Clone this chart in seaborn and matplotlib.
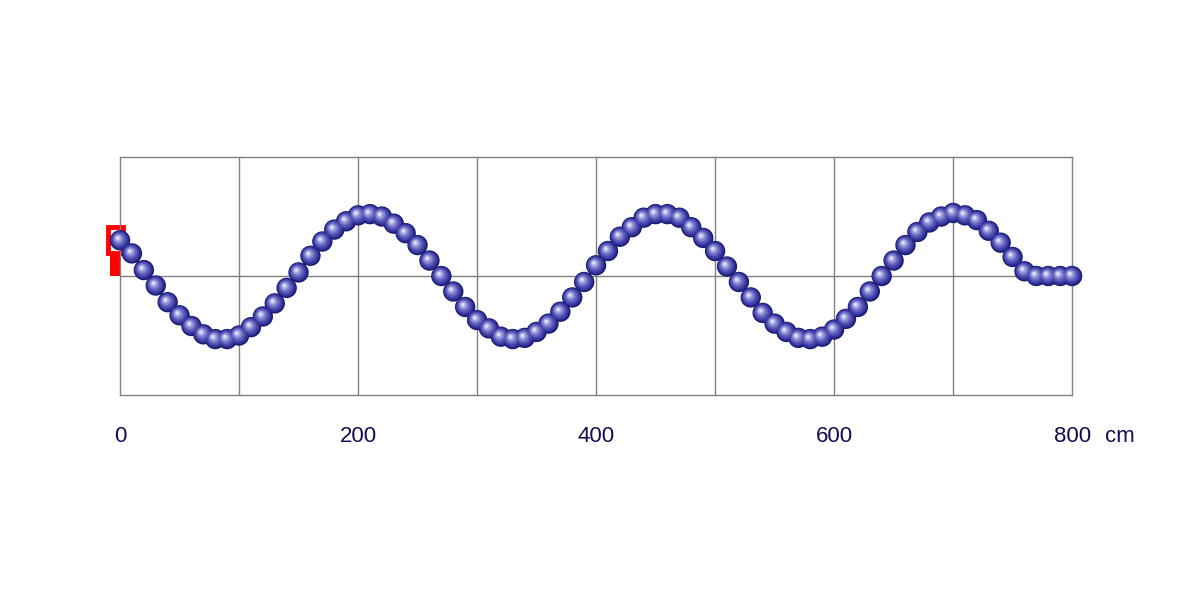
import numpy as np
import pandas as pd
import seaborn as sns
import matplotlib.pyplot as plt
from matplotlib.patches import Rectangle
from matplotlib.transforms import offset_copy

# ball positions along the string (cm) and their displacement
x_cm = list(range(0, 801, 10))
y_disp = [0.30, 0.19, 0.05, -0.08, -0.22, -0.33, -0.42, -0.49, -0.53, -0.53,
          -0.50, -0.43, -0.34, -0.23, -0.10, 0.03, 0.17, 0.29, 0.39, 0.46,
          0.51, 0.52, 0.50, 0.44, 0.36, 0.26, 0.13, 0.00, -0.13, -0.26,
          -0.37, -0.44, -0.51, -0.53, -0.52, -0.47, -0.40, -0.30, -0.18, -0.05,
          0.09, 0.21, 0.33, 0.41, 0.49, 0.52, 0.52, 0.49, 0.41, 0.32,
          0.21, 0.08, -0.05, -0.18, -0.31, -0.40, -0.47, -0.52, -0.53, -0.51,
          -0.45, -0.36, -0.26, -0.13, 0.00, 0.13, 0.26, 0.37, 0.45, 0.50,
          0.53, 0.51, 0.47, 0.38, 0.28, 0.16, 0.04, 0.00, 0.00, 0.00,
          0.00]
tick_pos = [0, 200, 400, 600, 800]
tick_labels = ["0", "200", "400", "600", "800"]
unit_label = "cm"

df = pd.DataFrame({"x": x_cm, "y": y_disp})

sns.set_style("white")
plt.rcParams['font.family'] = ['Liberation Sans', 'DejaVu Sans']

fig = plt.figure(figsize=(11.98, 5.93), dpi=100)
ax = fig.add_axes([0.1002, 0.3339, 0.7947, 0.4013])
ax.set_xlim(0, 800)
ax.set_ylim(-1, 1)

# grid
for gx in range(100, 800, 100):
    ax.axvline(gx, color="#808080", lw=1, zorder=1)
ax.axhline(0, color="#808080", lw=1, zorder=1)
for s in ax.spines.values():
    s.set_color("#808080")
    s.set_linewidth(1)

# red oscillator at the left end
ax.add_patch(Rectangle((-8.5, 0), 8.5, 0.19, facecolor="red", edgecolor="none",
                       zorder=2, clip_on=False))
ax.add_patch(Rectangle((-10.5, 0.19), 13, 0.22, facecolor="white", edgecolor="red",
                       lw=3.5, zorder=2, clip_on=False))

# string
sns.lineplot(data=df, x="x", y="y", color="#000050", lw=2, ax=ax, zorder=3,
             clip_on=False)

# shaded balls
layers = [(215, "#1a1a72", 0.0), (175, "#2e2e92", 0.25), (130, "#4444aa", 0.5),
          (85, "#6060bc", 0.8), (48, "#8484d0", 1.1), (22, "#aaaae4", 1.4),
          (7, "#dcdcf6", 1.6)]
for i, (size, col, off) in enumerate(layers):
    tr = offset_copy(ax.transData, fig=fig, x=-off, y=off, units="points")
    sns.scatterplot(data=df, x="x", y="y", s=size, color=col, edgecolor="none",
                    linewidth=0, ax=ax, zorder=4 + i, transform=tr, clip_on=False,
                    legend=False)

ax.set_xticks(tick_pos)
ax.set_xticklabels(tick_labels)
ax.set_yticks([])
ax.tick_params(axis="x", length=0, pad=22, labelsize=16, labelcolor="#140c50")
ax.set_xlabel("")
ax.set_ylabel("")
ax.text(1.035, -0.1285, unit_label, transform=ax.transAxes, ha="left", va="top",
        fontsize=16, color="#140c50")

fig.savefig("out.png", dpi=100)
